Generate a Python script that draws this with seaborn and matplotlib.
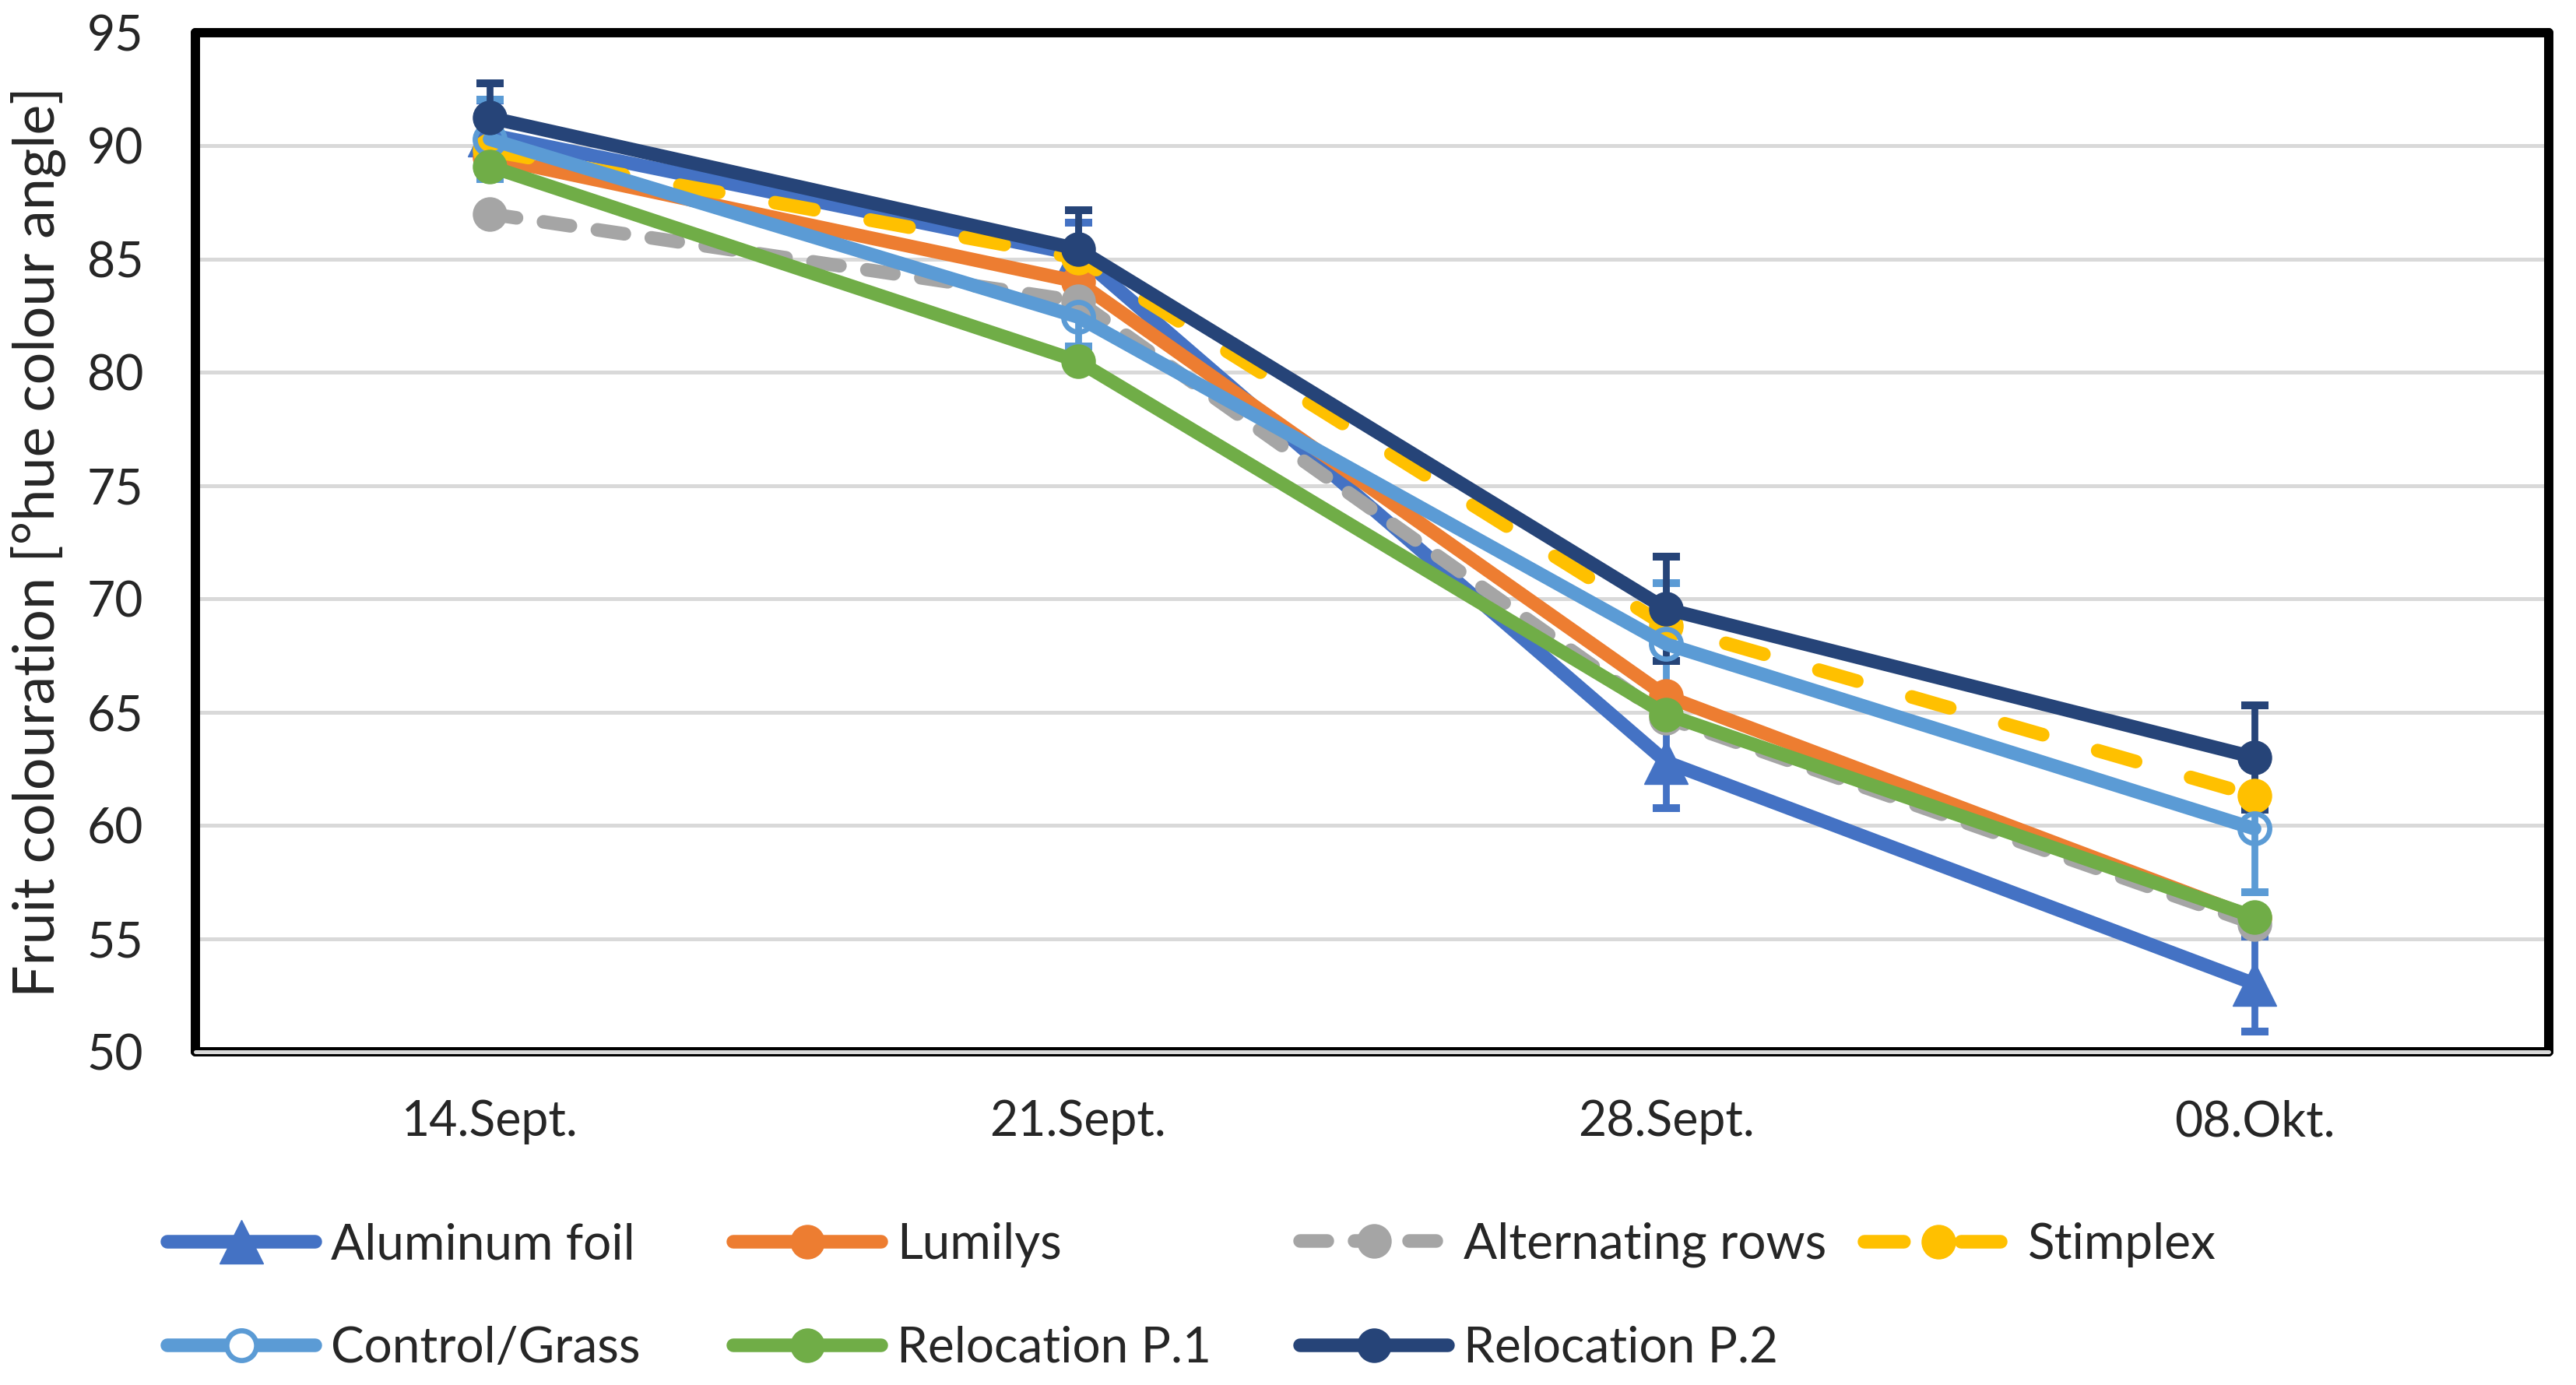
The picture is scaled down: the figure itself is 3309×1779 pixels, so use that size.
import pandas as pd
import matplotlib.pyplot as plt
import seaborn as sns
from copy import copy

dates = ["14.Sept.", "21.Sept.", "28.Sept.", "08.Okt."]
series = ["Aluminum foil", "Lumilys", "Alternating rows", "Stimplex",
          "Control/Grass", "Relocation P.1", "Relocation P.2"]

aluminum_foil = [90.5, 85.2, 62.8, 53.0]
lumilys = [89.5, 84.0, 65.7, 55.9]
alternating_rows = [87.0, 83.15, 64.75, 55.65]
stimplex = [89.8, 85.05, 68.8, 61.3]
control_grass = [90.3, 82.45, 68.0, 59.85]
relocation_p1 = [89.1, 80.5, 64.9, 55.95]
relocation_p2 = [91.25, 85.45, 69.55, 63.0]

# error bars that can be seen in the source picture
err_aluminum_foil = [1.5, 1.4, 2.05, 2.1]
err_control_grass = [1.75, 1.3, 2.7, 2.8]
err_relocation_p2 = [1.5, 1.7, 2.3, 2.3]

y_ticks = list(range(50, 100, 5))

values = [aluminum_foil, lumilys, alternating_rows, stimplex,
          control_grass, relocation_p1, relocation_p2]
errors = {"Aluminum foil": err_aluminum_foil,
          "Control/Grass": err_control_grass,
          "Relocation P.2": err_relocation_p2}

rows = []
for name, vals in zip(series, values):
    for i, v in enumerate(vals):
        rows.append({"series": name, "pos": i, "date": dates[i], "value": v})
df = pd.DataFrame(rows)

LW = 12.6
styles = {
    "Aluminum foil": dict(color="#4472C4", marker="^", ms=41, ls="-"),
    "Lumilys": dict(color="#ED7D31", marker="o", ms=31, ls="-"),
    "Alternating rows": dict(color="#A5A5A5", marker="o", ms=31, ls=(0, (2.0, 2.0))),
    "Stimplex": dict(color="#FFC000", marker="o", ms=31, ls=(0, (2.9, 4.2))),
    "Control/Grass": dict(color="#5B9BD5", marker="o", ms=27.5, ls="-", open=True),
    "Relocation P.1": dict(color="#70AD47", marker="o", ms=31, ls="-"),
    "Relocation P.2": dict(color="#264478", marker="o", ms=31, ls="-"),
}

W, H = 3309, 1779
sns.set_theme(style="white")
plt.rcParams["font.family"] = ["Lato", "DejaVu Sans"]

fig = plt.figure(figsize=(W / 100, H / 100), dpi=100)
ax = fig.add_axes([251 / W, 1 - 1351 / H, (3274 - 251) / W, (1351 - 42) / H])

for k, name in enumerate(series):
    st = styles[name]
    sub = df[df["series"] == name]
    c = st["color"]
    if name in errors:
        ax.errorbar(sub["pos"], sub["value"], yerr=errors[name], fmt="none",
                    ecolor=c, elinewidth=6.3, capsize=12.6, capthick=7.2,
                    zorder=2.8)
    sns.lineplot(data=sub, x="pos", y="value", ax=ax, color=c,
                 linestyle=st["ls"], linewidth=LW, marker=st["marker"],
                 markersize=st["ms"],
                 markerfacecolor="none" if st.get("open") else c,
                 markeredgecolor=c,
                 markeredgewidth=4.8 if st.get("open") else 1,
                 solid_capstyle="round", dash_capstyle="round",
                 solid_joinstyle="round", dash_joinstyle="round",
                 label=name, zorder=3 + k, legend=False)

ax.set_xlim(-0.5, 3.5)
ax.set_ylim(50, 95)
ax.set_yticks(y_ticks)
ax.set_xticks(range(len(dates)))
ax.set_xticklabels(dates)
ax.set_xticks([i - 0.5 for i in range(len(dates) + 1)], minor=True)
ax.tick_params(axis="x", which="major", length=0, pad=44, labelsize=45)
ax.tick_params(axis="x", which="minor", length=14, width=3.6,
               color="#D9D9D9", direction="out")
ax.tick_params(axis="y", length=0, pad=48, labelsize=45)

ax.grid(axis="y", color="#D9D9D9", linewidth=3.6, zorder=0)
ax.set_axisbelow(True)
for s in ax.spines.values():
    s.set_visible(True)
    s.set_color("black")
    s.set_linewidth(8.6)
    s.set_capstyle("round")
ax.axhline(50, color="#D9D9D9", linewidth=3.6, zorder=2.6, clip_on=False)

ax.set_xlabel("")
ax.set_ylabel("Fruit colouration [°hue colour angle]", fontsize=53)
ax.yaxis.set_label_coords(-0.055, 0.5)

handles, labels = ax.get_legend_handles_labels()
leg_x = [215, 942, 1670, 2395]
leg_y = [1599, 1732]
for i, (h, lab) in enumerate(zip(handles, labels)):
    r, col = divmod(i, 4)
    if styles[lab].get("open"):
        h = copy(h)
        h.set_markerfacecolor("white")
    fig.legend([h], [lab], loc="center left",
               bbox_to_anchor=(leg_x[col] / W, 1 - leg_y[r] / H),
               frameon=False, borderpad=0, borderaxespad=0,
               handlelength=2.97, handletextpad=0.32, fontsize=46)

fig.savefig("out.png", dpi=100)
